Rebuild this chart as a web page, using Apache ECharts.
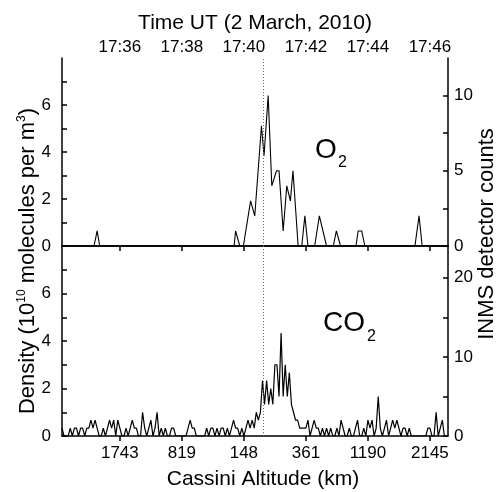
<!DOCTYPE html>
<html>
<head>
<meta charset="utf-8">
<script src="https://cdn.jsdelivr.net/npm/echarts@6/dist/echarts.min.js"></script>
<style>
  html, body { margin: 0; padding: 0; background: #fff; }
  #main { width: 499px; height: 492px; }
</style>
</head>
<body>
<div id="main"></div>
<script>
// время в секундах после 17:34:00
var timeMin = 8;
var timeMax = 755;
var tickTimes = [120, 240, 360, 480, 600, 720];
var timeLabels = ['17:36', '17:38', '17:40', '17:42', '17:44', '17:46'];
var altitudeLabels = ['1743', '819', '148', '361', '1190', '2145'];
var closestApproach = 397;

// O2: вершины ломаной (время, отсчёты INMS)
var o2Times = [8, 70, 76, 81, 341, 344, 352, 359, 373, 381, 394, 399, 407, 414, 423, 428, 436, 443, 450, 455,
  465, 472, 478, 484, 497, 506, 520, 533, 539, 547, 577, 581, 588, 594, 691, 699, 705, 755];
var o2Counts = [0, 0, 1, 0, 0, 1, 0, 0, 3, 2, 8, 6, 10, 4, 5, 5, 1, 4, 3, 5,
  0, 0, 2, 0, 0, 2, 0, 0, 1, 0, 0, 1, 1, 0, 0, 2, 0, 0];

// CO2: отсчёты с шагом 4 с
var co2Start = 8;
var co2Step = 4;
var co2Counts = [
  1, 0, 0, 0, 1, 0, 1, 1, 0, 1,
  1, 0, 1, 1, 2, 1, 2, 1, 0, 0,
  1, 0, 1, 2, 1, 2, 0, 2, 1, 0,
  0, 1, 0, 1, 2, 1, 1, 0, 0, 3,
  1, 0, 1, 2, 0, 1, 3, 0, 1, 0,
  1, 0, 0, 1, 1, 0, 0, 0, 0, 0,
  0, 1, 2, 1, 1, 0, 0, 0, 0, 0,
  1, 0, 1, 1, 0, 1, 0, 1, 1, 0,
  1, 0, 1, 2, 1, 1, 0, 1, 0, 1,
  2, 1, 2, 1, 3, 2, 3, 7, 4, 7,
  4, 6, 4, 9, 9, 5, 13, 5, 9, 5,
  8, 4, 3, 2, 2, 1, 1, 1, 1, 2,
  0, 1, 2, 1, 1, 0, 1, 0, 1, 0,
  1, 0, 0, 1, 0, 2, 1, 0, 0, 1,
  0, 0, 1, 2, 0, 0, 1, 0, 2, 1,
  2, 0, 1, 5, 1, 0, 1, 2, 0, 1,
  2, 1, 2, 1, 0, 1, 1, 0, 1, 0,
  0, 0, 0, 0, 0, 0, 0, 1, 1, 0,
  0, 3, 0, 1, 2, 0, 0
];

var font = 'Liberation Sans, Arial, sans-serif';
var chart = echarts.init(document.getElementById('main'), null, { renderer: 'canvas' });

function xAxisBase(gridIndex, position, labels, inside, margin) {
  return {
    type: 'value', gridIndex: gridIndex, position: position,
    min: timeMin, max: timeMax,
    axisLine: { show: true, lineStyle: { color: '#000', width: 1.5 } },
    axisTick: { show: true, inside: inside, length: 5, customValues: tickTimes,
      lineStyle: { color: '#000', width: 1.5 } },
    axisLabel: { show: true, customValues: tickTimes, color: '#000', fontSize: 17, fontFamily: font,
      margin: margin,
      formatter: function (v) { var k = tickTimes.indexOf(v); return k >= 0 ? labels[k] : ''; } },
    splitLine: { show: false }
  };
}

function yAxisBase(gridIndex, position, max, interval, labelStep, margin) {
  return {
    type: 'value', gridIndex: gridIndex, position: position,
    min: 0, max: max, interval: interval,
    axisLine: { show: true, lineStyle: { color: '#000', width: 1.5 } },
    axisTick: { show: true, inside: true, length: 5, lineStyle: { color: '#000', width: 1.5 } },
    axisLabel: { color: '#000', fontSize: 17, fontFamily: font, margin: margin, showMaxLabel: false,
      formatter: function (v) { return (v % labelStep === 0 && v < max) ? String(v) : ''; } },
    splitLine: { show: false }
  };
}

var topAxis = xAxisBase(0, 'top', timeLabels, true, 2);
topAxis.name = 'Time UT (2 March, 2010)';
topAxis.nameLocation = 'middle';
topAxis.nameGap = 24;
topAxis.nameTextStyle = { color: '#000', fontSize: 21, fontFamily: font };

var bottomAxis = xAxisBase(1, 'bottom', altitudeLabels, false, 9);
bottomAxis.name = 'Cassini Altitude (km)';
bottomAxis.nameLocation = 'middle';
bottomAxis.nameGap = 33;
bottomAxis.nameTextStyle = { color: '#000', fontSize: 21, fontFamily: font, padding: [0, 0, 0, 16] };

// разделитель между панелями
var dividerAxis = {
  type: 'value', gridIndex: 0, position: 'bottom', min: timeMin, max: timeMax,
  axisLine: { show: true, onZero: false, lineStyle: { color: '#000', width: 1.5 } },
  axisTick: { show: false }, axisLabel: { show: false }, splitLine: { show: false }
};

var markLineStyle = {
  symbol: 'none', silent: true, animation: false,
  label: { show: false },
  lineStyle: { type: [1, 2], color: '#666', width: 1 },
  data: [{ xAxis: closestApproach }]
};

chart.setOption({
  animation: false,
  backgroundColor: '#fff',
  grid: [
    { left: 62, right: 51, top: 58, height: 188 },
    { left: 62, right: 51, top: 246, height: 190 }
  ],
  xAxis: [topAxis, bottomAxis, dividerAxis],
  yAxis: [
    yAxisBase(0, 'left', 8, 1, 2, 11),
    yAxisBase(0, 'right', 12.5, 2.5, 5, 6),
    yAxisBase(1, 'left', 8, 1, 2, 11),
    yAxisBase(1, 'right', 24, 5, 10, 6)
  ],
  series: [
    {
      name: 'O2', type: 'line', xAxisIndex: 0, yAxisIndex: 1,
      data: o2Times.map(function (t, i) { return [t, o2Counts[i]]; }),
      symbol: 'none', lineStyle: { color: '#000', width: 1.1 },
      markLine: markLineStyle
    },
    {
      name: 'CO2', type: 'line', xAxisIndex: 1, yAxisIndex: 3,
      data: co2Counts.map(function (c, i) { return [co2Start + i * co2Step, c]; }),
      symbol: 'none', lineStyle: { color: '#000', width: 1.2 },
      markLine: markLineStyle
    }
  ],
  graphic: [
    { type: 'text', x: 315, y: 150, style: { text: 'O', font: '28px ' + font, fill: '#000', verticalAlign: 'middle' } },
    { type: 'text', x: 338, y: 163, style: { text: '2', font: '16px ' + font, fill: '#000', verticalAlign: 'middle' } },
    { type: 'text', x: 323, y: 323, style: { text: 'CO', font: '28px ' + font, fill: '#000', verticalAlign: 'middle' } },
    { type: 'text', x: 367, y: 337, style: { text: '2', font: '16px ' + font, fill: '#000', verticalAlign: 'middle' } },
    {
      type: 'text', x: 28, y: 261, rotation: Math.PI / 2,
      style: {
        text: 'Density (10{sup|10} molecules per m{sup|3})',
        font: '22px ' + font, fill: '#000', align: 'center', verticalAlign: 'middle',
        rich: { sup: { fontSize: 12, fontFamily: font, verticalAlign: 'top', lineHeight: 25 } }
      }
    },
    {
      type: 'text', x: 487, y: 234, rotation: Math.PI / 2,
      style: { text: 'INMS detector counts', font: '22px ' + font, fill: '#000', align: 'center', verticalAlign: 'middle' }
    }
  ]
});
</script>
</body>
</html>
